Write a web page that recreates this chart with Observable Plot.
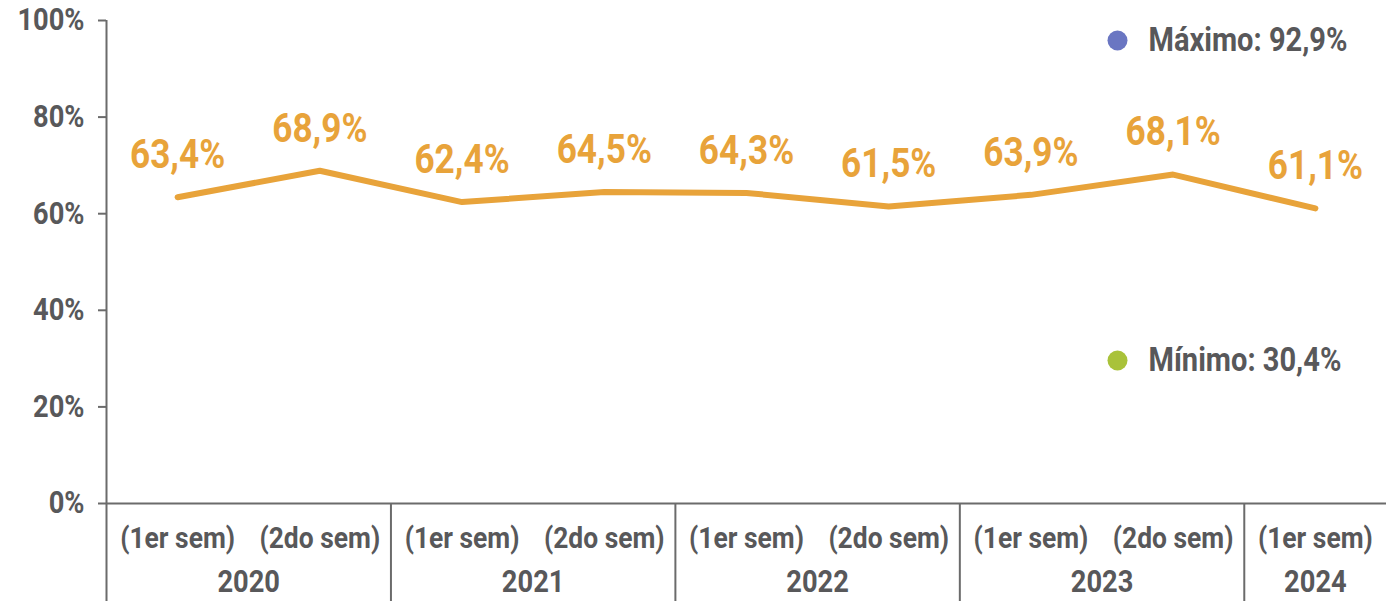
<!DOCTYPE html>
<html>
<head>
<meta charset="utf-8">
<script src="https://cdn.jsdelivr.net/npm/d3@7"></script>
<script src="https://cdn.jsdelivr.net/npm/@observablehq/plot@0.6"></script>
<style>
  html, body { margin: 0; padding: 0; background: #ffffff; }
  #chart svg { display: block; font-family: Roboto, "Liberation Sans", sans-serif; font-weight: bold; }
</style>
</head>
<body>
<div id="chart"></div>
<script>
// ---- data ----
const semesters = ["(1er sem)", "(2do sem)", "(1er sem)", "(2do sem)", "(1er sem)", "(2do sem)", "(1er sem)", "(2do sem)", "(1er sem)"];
const years = ["2020", "2020", "2021", "2021", "2022", "2022", "2023", "2023", "2024"];
const values = [63.4, 68.9, 62.4, 64.5, 64.3, 61.5, 63.9, 68.1, 61.1];
const yTicks = [0, 20, 40, 60, 80, 100];
const legendLabels = ["Máximo: 92,9%", "Mínimo: 30,4%"];
const legendColors = ["#6a76c2", "#a9c23a"];

// ---- layout / style ----
const W = 1386, H = 601;
const mTop = 20, mBottom = 98, mLeft = 106, mRight = 0;
const orange = "#e8a33a";
const gray = "#58585a";
const axisGray = "#6b6b6b";

const rows = values.map((v, i) => ({i, v, sem: semesters[i], year: years[i]}));
const yearGroups = d3.groups(rows, d => d.year).map(([year, rs]) => ({
  year,
  center: d3.mean(rs, d => d.i),
  start: d3.min(rs, d => d.i) - 0.5
}));
const pxPerUnit = (H - mTop - mBottom) / 100;
const yBottom = -mBottom / pxPerUnit - 1;
const fmt = v => v.toFixed(1).replace(".", ",") + "%";

const chart = Plot.plot({
  width: W,
  height: H,
  marginTop: mTop,
  marginBottom: mBottom,
  marginLeft: mLeft,
  marginRight: mRight,
  x: {type: "linear", domain: [-0.5, values.length - 0.5], axis: null},
  y: {domain: [0, 100], axis: null},
  marks: [
    Plot.axisY({
      ticks: yTicks,
      tickFormat: d => d + "%",
      label: null,
      tickSize: 8,
      tickPadding: 14,
      fontSize: 31,
      stroke: axisGray,
      strokeWidth: 2,
      color: gray,
      fill: gray
    }),
    Plot.ruleX([-0.5], {y1: yBottom, y2: 100, stroke: axisGray, strokeWidth: 2, clip: false}),
    Plot.ruleY([0], {stroke: axisGray, strokeWidth: 2}),
    Plot.ruleX(yearGroups.slice(1), {x: "start", y1: 0, y2: yBottom, stroke: axisGray, strokeWidth: 2, clip: false}),
    Plot.text(rows, {x: "i", text: "sem", frameAnchor: "bottom", lineAnchor: "middle", dy: 35, fontSize: 30, fill: gray, fontWeight: "bold"}),
    Plot.text(yearGroups, {x: "center", text: "year", frameAnchor: "bottom", lineAnchor: "middle", dy: 79, fontSize: 31, fill: gray, fontWeight: "bold"}),
    Plot.line(rows, {x: "i", y: "v", stroke: orange, strokeWidth: 6, strokeLinejoin: "miter"}),
    Plot.text(rows, {x: "i", y: "v", text: d => fmt(d.v), lineAnchor: "middle", dy: -42, fontSize: 40, fill: orange, fontWeight: "bold"}),
    Plot.dot([0], {frameAnchor: "top-right", dx: -269, dy: 20, r: 10, fill: legendColors[0], stroke: null}),
    Plot.text([legendLabels[0]], {frameAnchor: "top-right", dx: -238, dy: 20, text: d => d, textAnchor: "start", lineAnchor: "middle", fontSize: 33, fill: gray, fontWeight: "bold"}),
    Plot.dot([0], {frameAnchor: "top-right", dx: -269, dy: 340, r: 10, fill: legendColors[1], stroke: null}),
    Plot.text([legendLabels[1]], {frameAnchor: "top-right", dx: -238, dy: 340, text: d => d, textAnchor: "start", lineAnchor: "middle", fontSize: 33, fill: gray, fontWeight: "bold"})
  ]
});
document.getElementById("chart").appendChild(chart);

// condense the bold face to mimic a condensed typeface
chart.querySelectorAll("text").forEach(t => {
  const L = t.getComputedTextLength();
  if (L > 0) {
    t.setAttribute("textLength", (L * 0.88).toFixed(1));
    t.setAttribute("lengthAdjust", "spacingAndGlyphs");
  }
});
</script>
</body>
</html>
